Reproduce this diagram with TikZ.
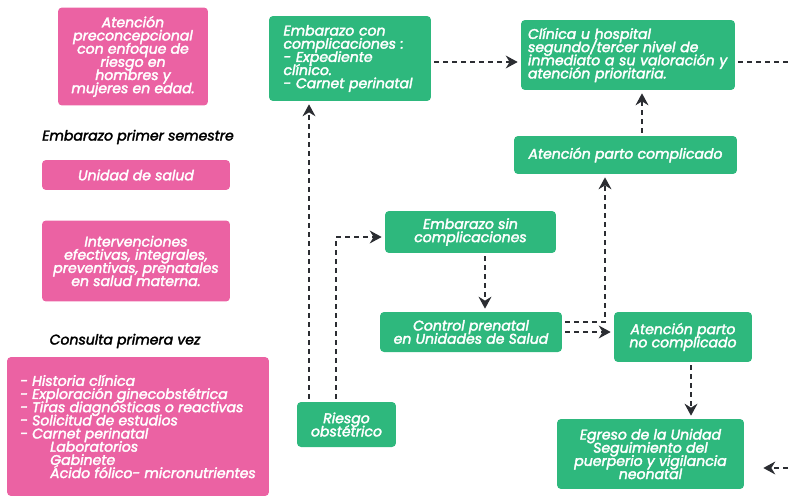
\documentclass[tikz,border=0pt]{standalone}
\usepackage{fontspec}
\setmainfont{Poppins}[ItalicFeatures={FakeBold=2.4}]
\usetikzlibrary{arrows.meta}
\definecolor{rosa}{RGB}{235,98,163}
\definecolor{verde}{RGB}{46,184,125}
\definecolor{gris}{RGB}{43,45,50}
\newcommand\letrachica{\fontsize{8}{7.5}\selectfont\itshape\lineskiplimit=-20pt\relax\lineskip=0pt\relax}
\begin{document}
\begin{tikzpicture}[x=0.02cm, y=-0.02cm,
    every node/.style={font=\letrachica, inner sep=0pt},
    caja/.style={rounded corners=0.08cm, text=white, align=center},
    rosabox/.style={caja, fill=rosa},
    verdebox/.style={caja, fill=verde},
    flow/.style={gris, line width=0.7pt, dash pattern=on 1mm off 0.8mm, -{Stealth[length=2.4mm, width=2.6mm, inset=0.8mm]}, shorten >=0.6mm, shorten <=0.6mm},
    >=stealth]
    \useasboundingbox (0,0) rectangle (791,497);
    % columna izquierda
    \node[rosabox, minimum width=3cm, minimum height=1.96cm] (pre) at (133,56.5) {Atención\\preconcepcional\\con enfoque de\\riesgo en\\hombres y\\mujeres en edad.};
    \node (semestre) at (138,137) {Embarazo primer semestre};
    \node[rosabox, minimum width=3.76cm, minimum height=0.6cm] (unidad) at (136,175) {Unidad de salud};
    \node[rosabox, minimum width=3.76cm, minimum height=1.62cm] (interv) at (136,261) {Intervenciones\\efectivas, integrales,\\preventivas, prenatales\\en salud materna.};
    \node (consulta) at (125,341) {Consulta primera vez};
    \node[rosabox, align=left, minimum width=5.24cm, minimum height=2.78cm] (lista) at (138,426.5) {- Historia clínica\\- Exploración ginecobstétrica\\- Tiras diagnósticas o reactivas\\- Solicitud de estudios\\- Carnet perinatal\\\hspace*{0.6cm}Laboratorios\\\hspace*{0.6cm}Gabinete\\\hspace*{0.6cm}Ácido fólico- micronutrientes};
    % flujo
    \node[verdebox, align=left, minimum width=3.24cm, minimum height=1.7cm, text width=2.66cm] (embcon) at (350,58.5) {Embarazo con\\complicaciones :\\- Expediente\\clínico.\\- Carnet perinatal};
    \node[verdebox, align=left, minimum width=4.28cm, minimum height=1.4cm, text width=4.0cm] (clinica) at (628,55) {Clínica u hospital\\segundo/tercer nivel de\\inmediato a su valoración y\\atención prioritaria.};
    \node[verdebox, minimum width=4.46cm, minimum height=0.76cm] (partocomp) at (625.5,155) {Atención parto complicado};
    \node[verdebox, minimum width=3.42cm, minimum height=0.84cm] (embsin) at (470.5,232) {Embarazo sin\\complicaciones};
    \node[verdebox, minimum width=3.64cm, minimum height=0.8cm] (control) at (471,332) {Control prenatal\\en Unidades de Salud};
    \node[verdebox, minimum width=2.76cm, minimum height=1cm] (nocomp) at (683,337) {Atención parto\\no complicado};
    \node[verdebox, minimum width=1.98cm, minimum height=0.9cm] (riesgo) at (346.5,424.5) {Riesgo\\obstétrico};
    \node[verdebox, minimum width=3.74cm, minimum height=1.4cm] (egreso) at (650.5,454) {Egreso de la Unidad\\Seguimiento del\\puerperio y vigilancia\\neonatal};
    \coordinate (bordeA) at (791,62);
    \coordinate (bordeB) at (791,468);
    % conectores
    \draw[flow] ([xshift=-0.75cm]riesgo.north) -- ([xshift=-0.75cm]riesgo.north |- embcon.south);
    \draw[flow] ([xshift=-0.21cm]riesgo.north) |- ([yshift=-0.1cm]embsin.west);
    \draw[flow] ([xshift=0.29cm]embsin.south) -- ([xshift=0.29cm]embsin.south |- control.north);
    \draw[flow] (control.east) -- (control.east -| nocomp.west);
    \draw[flow] ([yshift=0.2cm]control.east) -| ([xshift=-0.41cm]partocomp.south);
    \draw[flow] ([xshift=0.33cm]partocomp.north) -- ([xshift=0.33cm]partocomp.north |- clinica.south);
    \draw[flow] ([yshift=-0.07cm]embcon.east) -- ([yshift=-0.07cm]embcon.east -| clinica.west);
    \draw[flow, -] (clinica.east |- bordeA) -- (bordeA);
    \draw[flow] ([xshift=0.16cm]nocomp.south) -- ([xshift=0.16cm]nocomp.south |- egreso.north);
    \draw[flow, shorten >=0.38cm] (bordeB) -- (bordeB -| egreso.east);
\end{tikzpicture}
\end{document}
